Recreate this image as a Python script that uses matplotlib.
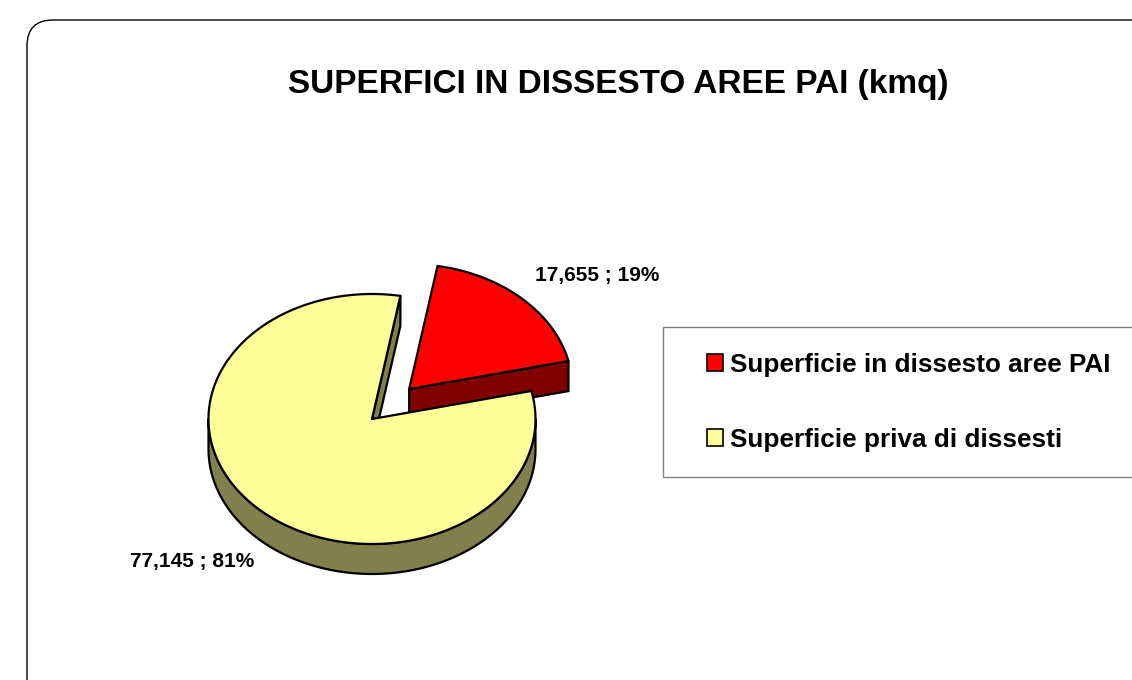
import numpy as np
import matplotlib
matplotlib.use("Agg")
import matplotlib.pyplot as plt
from matplotlib.patches import Polygon, FancyBboxPatch, Rectangle, Patch

plt.rcParams['font.family'] = ['Liberation Sans', 'DejaVu Sans']

# dati
categorie = ["Superficie in dissesto aree PAI", "Superficie priva di dissesti"]
valori = [17655, 77145]
colori_top = ["#FF0000", "#FFFF99"]
colori_lato = ["#800000", "#80804D"]
esploso = [0.33, 0.0]
titolo = "SUPERFICI IN DISSESTO AREE PAI (kmq)"

fig = plt.figure(figsize=(11.32, 6.8), dpi=100)
ax = fig.add_axes([0, 0, 1, 1])
ax.set_xlim(0, 1132)
ax.set_ylim(680, 0)
ax.axis('off')

# cornice arrotondata (tagliata a destra e in basso)
ax.add_patch(FancyBboxPatch((27, 20), 1200, 720, boxstyle="round,pad=0,rounding_size=26",
                            fc="white", ec="black", lw=1.0, zorder=0))

ax.text(618, 84, titolo, ha='center', va='center', fontsize=24, fontweight='bold')

# torta 3D simulata
cx, cy, rx, ry, depth = 372, 419, 163.5, 125, 30
start = 80.0
tot = sum(valori)
lw = 1.6


def pt(t, ox, oy, dz=0.0):
    t = np.radians(t)
    return cx + ox + rx * np.cos(t), cy + oy - ry * np.sin(t) + dz


ang = start
wedges = []
for i, v in enumerate(valori):
    span = 360.0 * v / tot
    a1 = ang
    a0 = ang - span
    wedges.append((a0, a1))
    ang = a0

for i in range(len(valori)):
    a0, a1 = wedges[i]
    mid = np.radians((a0 + a1) / 2)
    ox = esploso[i] * rx * np.cos(mid)
    oy = -esploso[i] * ry * np.sin(mid)
    z = 2 + i * 5
    # parete esterna (parte anteriore)
    lo, hi = a0 % 360, a0 % 360 + (a1 - a0)
    segs = []
    for base in (0, 360):
        s0, s1 = max(lo, 180 + base), min(hi, 360 + base)
        if s1 > s0:
            segs.append((s0, s1))
    for s0, s1 in segs:
        tt = np.linspace(s0, s1, 120)
        top = np.array([pt(t, ox, oy) for t in tt])
        bot = np.array([pt(t, ox, oy, depth) for t in tt[::-1]])
        ax.add_patch(Polygon(np.vstack([top, bot]), closed=True, fc=colori_lato[i], ec='black',
                             lw=lw, joinstyle='round', zorder=z))
    # facce radiali visibili
    c = (cx + ox, cy + oy)
    for a, vis in ((a0, np.cos(np.radians(a0)) > 0), (a1, np.cos(np.radians(a1)) < 0)):
        if vis:
            p = pt(a, ox, oy)
            quad = [c, p, (p[0], p[1] + depth), (c[0], c[1] + depth)]
            ax.add_patch(Polygon(quad, closed=True, fc=colori_lato[i], ec='black', lw=lw,
                                 joinstyle='round', zorder=z + 1))
    # faccia superiore
    tt = np.linspace(a0, a1, 200)
    arc = [pt(t, ox, oy) for t in tt]
    ax.add_patch(Polygon([c] + arc, closed=True, fc=colori_top[i], ec='black', lw=lw,
                         joinstyle='round', zorder=z + 2))

# etichette
pos_etichette = [(535, 276, 'left'), (254, 562, 'right')]
for i, v in enumerate(valori):
    x, y, ha = pos_etichette[i]
    testo = f"{v:,} ; {round(100 * v / tot)}%"
    ax.text(x, y, testo, ha=ha, va='center', fontsize=15, fontweight='bold', zorder=20)

# legenda
ax.add_patch(Rectangle((663, 327), 600, 150, fc='white', ec='#808080', lw=1.0, zorder=15))
handles = [Patch(fc=colori_top[i], ec='black', lw=1.2) for i in range(len(valori))]
leg = ax.legend(handles, categorie, loc='upper left', bbox_to_anchor=(686 / 1132, 1 - 332 / 680),
                bbox_transform=fig.transFigure, frameon=False,
                prop={'weight': 'bold', 'size': 18.8}, handlelength=0.62, handleheight=0.62,
                handletextpad=0.25, labelspacing=1.95, borderpad=0.3)
leg.set_zorder(25)

fig.savefig("out.png", dpi=100)
